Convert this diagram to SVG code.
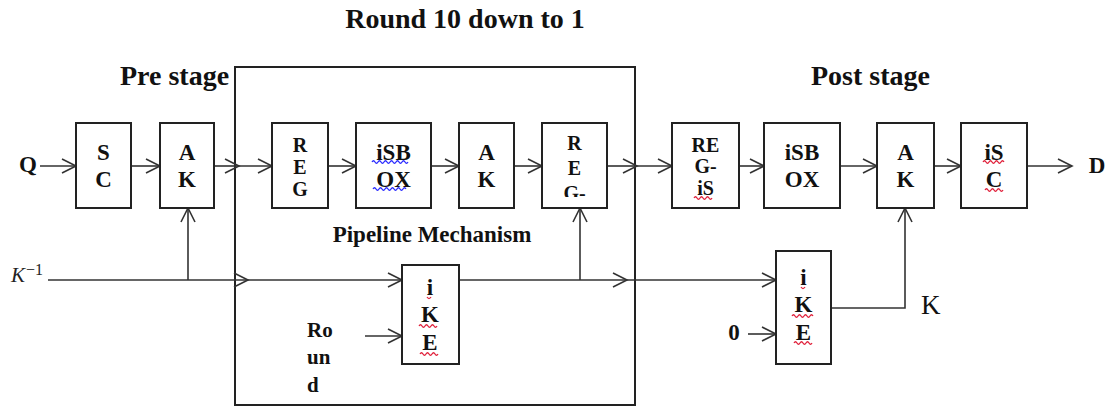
<svg xmlns="http://www.w3.org/2000/svg" width="1114" height="407" viewBox="0 0 1114 407">
<style>
.box{fill:#fff;stroke:#222;stroke-width:2}
.frame{fill:none;stroke:#222;stroke-width:2}
.ln{fill:none;stroke:#333;stroke-width:1.6}
.t{font-family:"Liberation Serif","Times New Roman",serif;font-weight:bold;font-size:23px;text-anchor:middle;fill:#111}
.r{font-family:"Liberation Serif","Times New Roman",serif;font-weight:bold;font-size:20px;text-anchor:middle;fill:#111}
.big{font-family:"Liberation Serif","Times New Roman",serif;font-weight:bold;font-size:28px;fill:#111}
.sm{font-family:"Liberation Serif","Times New Roman",serif;font-weight:bold;font-size:21px;fill:#111}
.wr{fill:none;stroke:#e0203a;stroke-width:1.3}
.wb{fill:none;stroke:#2a2aff;stroke-width:1.3}
</style>
<defs>
<marker id="ah" markerUnits="userSpaceOnUse" markerWidth="20" markerHeight="20" refX="15" refY="8" orient="auto" overflow="visible">
<path d="M1,1 L15,8 L1,15" fill="none" stroke="#333" stroke-width="1.6"/>
</marker>
<clipPath id="clipReg"><rect x="542" y="123" width="65" height="74"/></clipPath>
</defs>

<text class="big" x="465" y="28" text-anchor="middle">Round 10 down to 1</text>
<text class="big" x="120" y="85">Pre stage</text>
<text class="big" x="811" y="85">Post stage</text>

<rect class="frame" x="235" y="67" width="400" height="338"/>
<text class="t" x="432" y="242">Pipeline Mechanism</text>

<g id="connectors">
<line class="ln" x1="40" y1="166" x2="76" y2="166" marker-end="url(#ah)"/>
<line class="ln" x1="131" y1="166" x2="160" y2="166" marker-end="url(#ah)"/>
<line class="ln" x1="214" y1="166" x2="239" y2="166" marker-end="url(#ah)"/>
<line class="ln" x1="239" y1="166" x2="272" y2="166" marker-end="url(#ah)"/>
<line class="ln" x1="328" y1="166" x2="356" y2="166" marker-end="url(#ah)"/>
<line class="ln" x1="431" y1="166" x2="459" y2="166" marker-end="url(#ah)"/>
<line class="ln" x1="514" y1="166" x2="542" y2="166" marker-end="url(#ah)"/>
<line class="ln" x1="607" y1="166" x2="637" y2="166" marker-end="url(#ah)"/>
<line class="ln" x1="637" y1="166" x2="672" y2="166" marker-end="url(#ah)"/>
<line class="ln" x1="739" y1="166" x2="764" y2="166" marker-end="url(#ah)"/>
<line class="ln" x1="840" y1="166" x2="877" y2="166" marker-end="url(#ah)"/>
<line class="ln" x1="934" y1="166" x2="961" y2="166" marker-end="url(#ah)"/>
<line class="ln" x1="1027" y1="166" x2="1072" y2="166" marker-end="url(#ah)"/>
<line class="ln" x1="48" y1="280" x2="248" y2="280" marker-end="url(#ah)"/>
<line class="ln" x1="248" y1="280" x2="402" y2="280" marker-end="url(#ah)"/>
<line class="ln" x1="188" y1="280" x2="188" y2="208" marker-end="url(#ah)"/>
<line class="ln" x1="459" y1="280" x2="627" y2="280" marker-end="url(#ah)"/>
<line class="ln" x1="627" y1="280" x2="776" y2="280" marker-end="url(#ah)"/>
<line class="ln" x1="580" y1="280" x2="580" y2="208" marker-end="url(#ah)"/>
<line class="ln" x1="365" y1="336" x2="402" y2="336" marker-end="url(#ah)"/>
<line class="ln" x1="748" y1="334" x2="776" y2="334" marker-end="url(#ah)"/>
<polyline class="ln" points="831,308 905,308 905,208" marker-end="url(#ah)"/>
</g>

<g id="labels">
<text class="t" x="28" y="172" font-size="25">Q</text>
<text class="t" x="1097" y="173" font-size="25">D</text>
<text x="11" y="282" font-family="Liberation Serif, serif" font-style="italic" font-size="21" fill="#222">K</text>
<text x="26" y="275" font-family="Liberation Serif, serif" font-size="16" fill="#222">−1</text>
<text class="sm" x="307" y="337">Ro</text>
<text class="sm" x="307" y="364">un</text>
<text class="sm" x="307" y="392">d</text>
<text class="t" x="734" y="340">0</text>
<text x="921" y="314" font-family="Liberation Serif, serif" font-size="27" fill="#111">K</text>
</g>

<g id="sc"><rect class="box" x="76" y="123" width="55" height="85"/>
<text class="t" x="103.5" y="160">S</text><text class="t" x="103.5" y="187">C</text></g>
<g id="ak1"><rect class="box" x="160" y="123" width="54" height="85"/>
<text class="t" x="187" y="160">A</text><text class="t" x="187" y="187">K</text></g>
<g id="reg1"><rect class="box" x="272" y="123" width="56" height="85"/>
<text class="r" x="300" y="152">R</text><text class="r" x="300" y="174">E</text><text class="r" x="300" y="196">G</text></g>
<g id="isbox1"><rect class="box" x="356" y="123" width="75" height="85"/>
<text class="t" x="393.5" y="160">iSB</text><text class="t" x="393.5" y="187">OX</text>
<path class="wb" d="M372,162 q1.5,-2.5 3,0 t3,0 t3,0 t3,0 t3,0 t3,0 t3,0 t3,0 t3,0 t3,0 t3,0 t3,0"/>
<path class="wb" d="M373,189 q1.5,-2.5 3,0 t3,0 t3,0 t3,0 t3,0 t3,0 t3,0 t3,0 t3,0 t3,0 t3,0"/></g>
<g id="ak2"><rect class="box" x="459" y="123" width="55" height="85"/>
<text class="t" x="486.5" y="160">A</text><text class="t" x="486.5" y="187">K</text></g>
<g id="reg2"><rect class="box" x="542" y="123" width="65" height="85"/>
<g clip-path="url(#clipReg)"><text class="r" x="574.5" y="150">R</text><text class="r" x="574.5" y="175">E</text><text class="r" x="574.5" y="200">G-</text></g></g>
<g id="ike1"><rect class="box" x="402" y="265" width="57" height="99"/>
<text class="t" x="430" y="295">i</text><text class="t" x="430" y="322">K</text><text class="t" x="430" y="350">E</text>
<path class="wr" d="M427,297 q2,3 4,0"/>
<path class="wr" d="M419,326 q1.5,-2.5 3,0 t3,0 t3,0 t3,0 t3,0 t3,0"/>
<path class="wr" d="M420,354 q1.5,-2.5 3,0 t3,0 t3,0 t3,0 t3,0 t3,0"/></g>
<g id="regis"><rect class="box" x="672" y="123" width="67" height="85"/>
<text class="r" x="705.5" y="152">RE</text><text class="r" x="705.5" y="173">G-</text><text class="r" x="705.5" y="195">iS</text>
<path class="wr" d="M694,198 q1.5,-2.5 3,0 t3,0 t3,0 t3,0 t3,0 t3,0"/></g>
<g id="isbox2"><rect class="box" x="764" y="123" width="76" height="85"/>
<text class="t" x="802" y="160">iSB</text><text class="t" x="802" y="187">OX</text></g>
<g id="ak3"><rect class="box" x="877" y="123" width="57" height="85"/>
<text class="t" x="905.5" y="160">A</text><text class="t" x="905.5" y="187">K</text></g>
<g id="isc"><rect class="box" x="961" y="123" width="66" height="85"/>
<text class="t" x="994" y="160">iS</text><text class="t" x="994" y="187">C</text>
<path class="wr" d="M983,162 q1.5,-2.5 3,0 t3,0 t3,0 t3,0 t3,0 t3,0 t3,0"/>
<path class="wr" d="M985,190 q1.5,-2.5 3,0 t3,0 t3,0 t3,0 t3,0 t3,0"/></g>
<g id="ike2"><rect class="box" x="776" y="251" width="55" height="113"/>
<text class="t" x="803.5" y="285">i</text><text class="t" x="803.5" y="312">K</text><text class="t" x="803.5" y="340">E</text>
<path class="wr" d="M801,287 q2,3 4,0"/>
<path class="wr" d="M792,316 q1.5,-2.5 3,0 t3,0 t3,0 t3,0 t3,0 t3,0 t3,0"/>
<path class="wr" d="M794,343 q1.5,-2.5 3,0 t3,0 t3,0 t3,0 t3,0 t3,0"/></g>
</svg>
